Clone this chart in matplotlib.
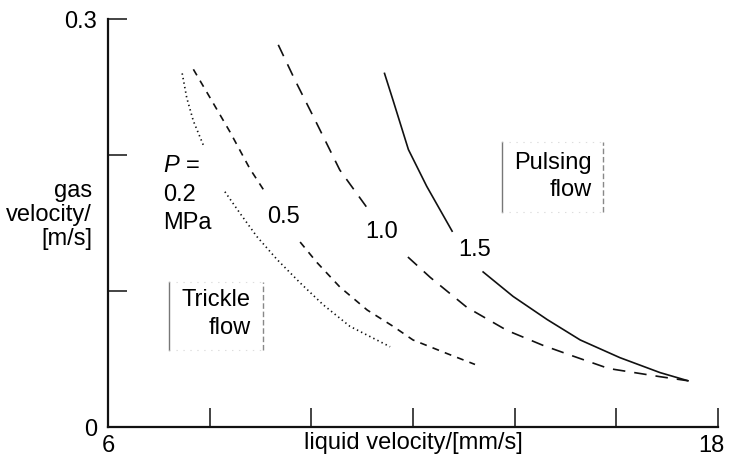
import matplotlib
matplotlib.use("Agg")
import matplotlib.pyplot as plt
from matplotlib.transforms import ScaledTranslation

plt.rcParams['font.family'] = ['Liberation Sans', 'DejaVu Sans']
plt.rcParams['mathtext.fontset'] = 'custom'
plt.rcParams['mathtext.it'] = 'Liberation Sans:italic'
plt.rcParams['lines.scale_dashes'] = False

# boundary curves trickle/pulsing flow, one per pressure,
# each split in two pieces so the pressure label sits in the gap
p02_top_x = [7.46, 7.55, 7.68, 7.89]
p02_top_y = [0.260, 0.242, 0.225, 0.206]
p02_low_x = [8.30, 8.60, 8.93, 9.33, 9.78, 10.23, 10.76, 11.55]
p02_low_y = [0.173, 0.157, 0.140, 0.123, 0.106, 0.090, 0.074, 0.059]

p05_top_x = [7.68, 8.01, 8.40, 8.79, 9.12]
p05_top_y = [0.263, 0.242, 0.217, 0.190, 0.171]
p05_low_x = [9.78, 10.11, 10.56, 11.10, 11.61, 12.00, 12.67, 13.22]
p05_low_y = [0.136, 0.121, 0.103, 0.086, 0.074, 0.064, 0.054, 0.046]

p10_top_x = [9.35, 9.68, 10.07, 10.56, 11.12]
p10_top_y = [0.281, 0.255, 0.226, 0.189, 0.160]
p10_low_x = [11.90, 12.34, 13.06, 13.85, 14.56, 15.16, 15.85, 16.86, 17.41]
p10_low_y = [0.125, 0.110, 0.088, 0.071, 0.060, 0.052, 0.043, 0.037, 0.034]

p15_top_x = [11.44, 11.61, 11.91, 12.27, 12.77]
p15_top_y = [0.260, 0.240, 0.204, 0.177, 0.144]
p15_low_x = [13.38, 13.97, 14.64, 15.29, 16.07, 16.86, 17.41]
p15_low_y = [0.114, 0.096, 0.079, 0.064, 0.051, 0.040, 0.034]

x_ticks = [6, 8, 10, 12, 14, 16, 18]
x_tick_labels = ['6', '', '', '', '', '', '18']
y_ticks = [0, 0.1, 0.2, 0.3]
y_tick_labels = ['0', '', '', '0.3']

fs = 17
ink = '#111111'

fig = plt.figure(figsize=(7.29, 4.68), dpi=100)
ax = fig.add_axes([0.1481, 0.0876, 0.8368, 0.8718])

dotted = (0, (1.0, 2.3))
short_dash = (0, (5.0, 4.5))
long_dash = (0, (9.0, 6.5))

for xs, ys, ls in [(p02_top_x, p02_top_y, dotted), (p02_low_x, p02_low_y, dotted),
                   (p05_top_x, p05_top_y, short_dash), (p05_low_x, p05_low_y, short_dash),
                   (p10_top_x, p10_top_y, long_dash), (p10_low_x, p10_low_y, long_dash),
                   (p15_top_x, p15_top_y, '-'), (p15_low_x, p15_low_y, '-')]:
    ax.plot(xs, ys, color=ink, lw=1.2, linestyle=ls)

# pressure labels
ax.text(7.08, 0.192, '$P$ =', fontsize=fs, ha='left', va='center')
ax.text(7.08, 0.1706, '0.2', fontsize=fs, ha='left', va='center')
ax.text(7.08, 0.150, 'MPa', fontsize=fs, ha='left', va='center')
ax.text(9.46, 0.1544, '0.5', fontsize=fs, ha='center', va='center')
ax.text(11.39, 0.1434, '1.0', fontsize=fs, ha='center', va='center')
ax.text(13.22, 0.1301, '1.5', fontsize=fs, ha='center', va='center')

# regime boxes
def regime_box(x0, x1, y0, y1):
    ax.plot([x0, x0], [y0, y1], color='#777777', lw=1.0)
    ax.plot([x1, x1], [y0, y1], color='#888888', lw=1.0, linestyle=(0, (4, 2)))
    ax.plot([x0, x1], [y1, y1], color='#dddddd', lw=0.8, linestyle=(0, (1, 4)))
    ax.plot([x0, x1], [y0, y0], color='#dddddd', lw=0.8, linestyle=(0, (1, 4)))

regime_box(7.20, 9.05, 0.0566, 0.1066)
ax.text(8.81, 0.0934, 'Trickle', fontsize=fs, ha='right', va='center')
ax.text(8.81, 0.0728, 'flow', fontsize=fs, ha='right', va='center')

regime_box(13.75, 15.74, 0.1581, 0.2096)
ax.text(15.52, 0.1941, 'Pulsing', fontsize=fs, ha='right', va='center')
ax.text(15.52, 0.1743, 'flow', fontsize=fs, ha='right', va='center')

ax.set_xlim(6, 18)
ax.set_ylim(0, 0.3)
ax.set_xticks(x_ticks)
ax.set_xticklabels(x_tick_labels)
ax.set_yticks(y_ticks)
ax.set_yticklabels(y_tick_labels)
ax.tick_params(direction='in', length=13.5, width=1.1, labelsize=fs, color=ink, pad=6)
ax.tick_params(axis='y', pad=8)

# pull the last x label in a little so it stays on the canvas
last = ax.get_xticklabels()[-1]
last.set_transform(last.get_transform() + ScaledTranslation(-5 / 72, 0, fig.dpi_scale_trans))

for side in ['top', 'right']:
    ax.spines[side].set_visible(False)
for side in ['left', 'bottom']:
    ax.spines[side].set_linewidth(1.6)
    ax.spines[side].set_color(ink)

ax.text(0.5, -0.039, 'liquid velocity/[mm/s]', transform=ax.transAxes,
        fontsize=fs, ha='center', va='center')
ax.text(-0.026, 0.52, 'gas\nvelocity/\n[m/s]', transform=ax.transAxes,
        fontsize=fs, ha='right', va='center', multialignment='right', linespacing=1.1)

fig.savefig('out.png', dpi=100)
